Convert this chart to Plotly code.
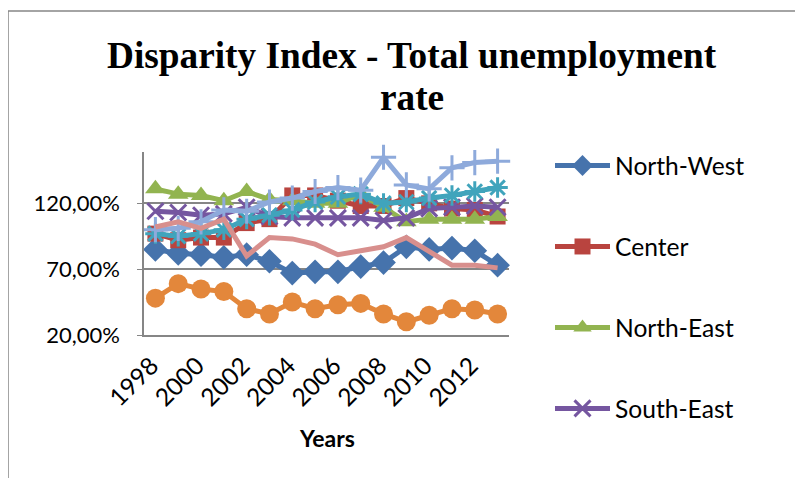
import plotly.graph_objects as go

years = list(range(1998, 2014))

north_west = [85, 82, 81, 79, 81, 76, 67, 68, 68, 72, 75, 87, 85, 86, 84, 73]
center = [97, 92, 94, 94, 105, 108, 126, 126, 122, 118, 118, 124, 120, 116, 115, 110]
north_east = [131, 127, 126, 122, 129, 123, 122, 120, 120, 127, 117, 106, 108, 108, 108, 110]
south_east = [114, 113, 111, 112, 117, 110, 109, 109, 109, 109, 107, 109, 116, 117, 118, 117]
south_muntenia = [97, 95, 97, 100, 108, 111, 115, 121, 125, 127, 120, 121, 124, 126, 129, 132]
bucharest_ilfov = [48, 59, 55, 53, 40, 36, 45, 40, 43, 44, 36, 30, 35, 40, 39, 36]
south_west = [100, 101, 106, 115, 114, 121, 124, 129, 132, 130, 155, 134, 131, 147, 151, 152]
west = [102, 106, 101, 108, 80, 94, 93, 89, 81, 84, 87, 94, 84, 73, 73, 71]

y_tickvals = [20, 70, 120]
y_ticktext = ["20,00%", "70,00%", "120,00%"]
x_tickvals = list(range(1998, 2013, 2))
x_ticktext = [str(v) for v in x_tickvals]

series = [
    ("North-West", north_west, "#4673AC", "diamond", 19, True),
    ("Center", center, "#B9443F", "square", 16, True),
    ("North-East", north_east, "#92B450", "triangle-up", 18, True),
    ("South-East", south_east, "#7556A0", "x-thin-open", 16, True),
    ("South-Muntenia", south_muntenia, "#40A4BC", "asterisk-open", 17, False),
    ("Bucharest-Ilfov", bucharest_ilfov, "#E3873B", "circle", 19, False),
    ("South-West Oltenia", south_west, "#8EAADB", "cross-thin-open", 18, False),
    ("West", west, "#D88F8D", None, 0, False),
]

FONT = "Lato, 'Open Sans', sans-serif"
SERIF = "'Liberation Serif', 'Times New Roman', serif"

fig = go.Figure()
for i, (name, vals, color, sym, size, show) in enumerate(series):
    if sym is None:
        mode = "lines"
        marker = None
    else:
        mode = "lines+markers"
        marker = dict(symbol=sym, size=size, color=color,
                      line=dict(color=color, width=3 if "open" in sym else 0))
    fig.add_trace(go.Scatter(
        x=years, y=vals, name=name, mode=mode,
        line=dict(color=color, width=5),
        marker=marker, showlegend=show, legendgroup=f"g{i}",
        cliponaxis=False,
    ))

# page body has an 8px margin: work in page pixels, convert to figure pixels
OFF = 8
FW, FH = 803 - OFF, 478 - OFF
# plot area in page pixels
PX0, PX1, PY0, PY1 = 144, 509, 152, 335
L, R, T, B = PX0 - OFF, FW - (PX1 - OFF), PY0 - OFF, FH - (PY1 - OFF)
W = PX1 - PX0
H = PY1 - PY0


def px_x(px):
    return (px - PX0) / W


def px_y(py):
    return (PY1 - py) / H


fig.update_layout(
    width=FW, height=FH,
    margin=dict(l=L, r=R, t=T, b=B, autoexpand=False),
    paper_bgcolor="white", plot_bgcolor="white",
    font=dict(family=FONT, size=23, color="black"),
    showlegend=True,
    legend=dict(x=px_x(550), y=px_y(143), xanchor="left", yanchor="top",
                font=dict(size=24.6, family=FONT), tracegroupgap=46,
                itemwidth=55, bgcolor="rgba(0,0,0,0)", maxheight=1.0),
    xaxis=dict(range=[1997.5, 2013.5], tickvals=x_tickvals, ticktext=x_ticktext,
               tickangle=-45, showgrid=False, zeroline=False,
               showline=True, linecolor="#868686", linewidth=1.5,
               ticklabelstandoff=5, ticklabelshift=-4,
               tickfont=dict(size=24.5, family=FONT)),
    yaxis=dict(range=[20, 159], tickvals=y_tickvals, ticktext=y_ticktext,
               showgrid=True, gridcolor="#868686", gridwidth=1.5, zeroline=False,
               showline=True, linecolor="#868686", linewidth=1.5,
               ticks="outside", ticklen=5, tickcolor="#868686",
               ticklabelstandoff=13,
               tickfont=dict(size=22, family=FONT)),
    annotations=[
        dict(text="<b>Disparity Index - Total unemployment</b>", x=px_x(412), y=px_y(55),
             xref="paper", yref="paper", xanchor="center", yanchor="middle",
             showarrow=False, font=dict(family=SERIF, size=37.3)),
        dict(text="<b>rate</b>", x=px_x(412), y=px_y(97),
             xref="paper", yref="paper", xanchor="center", yanchor="middle",
             showarrow=False, font=dict(family=SERIF, size=37.3)),
        dict(text="<b>Years</b>", x=0.5, y=px_y(438),
             xref="paper", yref="paper", xanchor="center", yanchor="middle",
             showarrow=False, font=dict(family=FONT, size=23)),
    ],
    shapes=[
        dict(type="line", xref="paper", yref="paper", x0=px_x(8), x1=px_x(803),
             y0=px_y(11), y1=px_y(11), line=dict(color="#868686", width=1.5)),
        dict(type="line", xref="paper", yref="paper", x0=px_x(8), x1=px_x(8),
             y0=px_y(11), y1=px_y(478), line=dict(color="#868686", width=1.5)),
    ],
)

fig.write_html("out.html")
